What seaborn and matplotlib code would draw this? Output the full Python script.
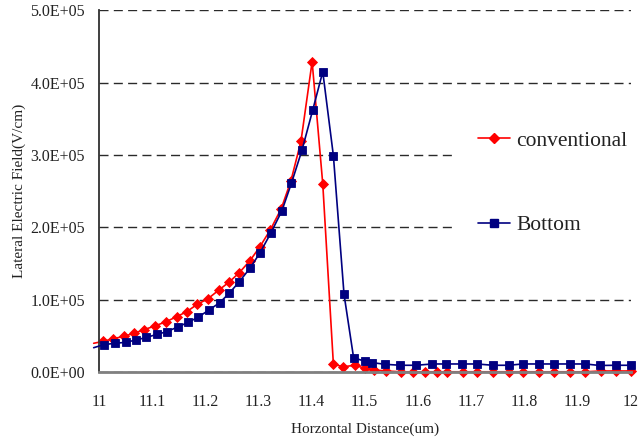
import matplotlib
matplotlib.use("Agg")
import matplotlib.pyplot as plt
from matplotlib.lines import Line2D
import numpy as np
import pandas as pd
import seaborn as sns

# Lateral electric field along the channel (V/cm) vs horizontal distance (um)
conv_x = [10.99, 11.007, 11.027, 11.047, 11.066, 11.085, 11.105, 11.126, 11.146, 11.165,
          11.185, 11.205, 11.225, 11.245, 11.264, 11.284, 11.302, 11.322, 11.343, 11.361,
          11.380, 11.401, 11.421, 11.441, 11.460, 11.481, 11.501, 11.518, 11.540, 11.569,
          11.590, 11.613, 11.635, 11.655, 11.684, 11.711, 11.741, 11.771, 11.798, 11.827,
          11.857, 11.886, 11.915, 11.944, 11.972, 12.0]
conv_e = [39700, 42200, 46000, 49400, 53500, 58600, 63600, 69500, 76400, 83400,
          93600, 101300, 113000, 124400, 137300, 153900, 172400, 196000, 226000, 264000,
          319000, 429000, 260000, 10600, 7300, 9300, 5100, 2800, 1400, 300,
          300, 300, 300, 300, 300, 300, 300, 300, 300, 300,
          300, 300, 300, 1400, 1400, 1400]

bot_x = [10.99, 11.010, 11.031, 11.051, 11.069, 11.089, 11.110, 11.127, 11.148, 11.168,
         11.186, 11.207, 11.227, 11.245, 11.264, 11.284, 11.303, 11.323, 11.344, 11.362,
         11.382, 11.402, 11.421, 11.441, 11.461, 11.479, 11.500, 11.514, 11.539, 11.567,
         11.597, 11.627, 11.653, 11.683, 11.711, 11.741, 11.771, 11.797, 11.827, 11.857,
         11.886, 11.915, 11.942, 11.972, 12.0]
bot_e = [33600, 38000, 39700, 41100, 44200, 47700, 52300, 55600, 62200, 68700,
         75600, 85700, 95800, 108800, 124900, 143400, 164900, 191700, 222600, 260800,
         306900, 361800, 415100, 299000, 107400, 19800, 14800, 12900, 10600, 9300,
         9300, 11100, 11100, 11100, 11100, 9300, 9300, 11100, 11100, 11100,
         11100, 11100, 9000, 9300, 9300]

series_names = ["conventional", "Bottom"]
x_ticks = [11, 11.1, 11.2, 11.3, 11.4, 11.5, 11.6, 11.7, 11.8, 11.9, 12]
y_ticks = [0, 100000, 200000, 300000, 400000, 500000]
y_tick_labels = ["0.0E+00", "1.0E+05", "2.0E+05", "3.0E+05", "4.0E+05", "5.0E+05"]

df = pd.concat([
    pd.DataFrame({"x": conv_x, "E": conv_e, "series": series_names[0]}),
    pd.DataFrame({"x": bot_x, "E": bot_e, "series": series_names[1]}),
], ignore_index=True)

sns.set_style("white")
plt.rcParams["font.family"] = ["Liberation Serif", "DejaVu Serif"]

colors = {"conventional": "#FF0000", "Bottom": "#000080"}
markers = {"conventional": "D", "Bottom": "s"}
msizes = {"conventional": 5.0, "Bottom": 6.0}

fig = plt.figure(figsize=(6.4, 4.38), dpi=100)
ax = fig.add_axes([99 / 640, 1 - 372 / 438, (630.5 - 99) / 640, (372 - 10.3) / 438])

sns.lineplot(data=df, x="x", y="E", hue="series", style="series",
             palette=colors, markers=markers, dashes=False, sort=False,
             errorbar=None, legend=False, ax=ax, linewidth=1.2,
             markeredgewidth=0.6, markevery=slice(1, None), clip_on=False)
for ln, name in zip(ax.lines, series_names):
    ln.set_markeredgecolor(colors[name])
    ln.set_markersize(msizes[name])
    ln.set_zorder(3 if name == "Bottom" else 2)

ax.set_xlim(11, 12)
ax.set_ylim(0, 500000)
ax.set_xticks(x_ticks)
ax.set_xticklabels([f"{t:g}" for t in x_ticks])
ax.set_yticks(y_ticks)
ax.set_yticklabels(y_tick_labels)

ax.yaxis.grid(True, color="#2a2a2a", linewidth=1.0, linestyle=(0, (6.5, 3.8)))
ax.xaxis.grid(False)
ax.set_axisbelow(True)

for s in ["top", "right"]:
    ax.spines[s].set_visible(False)
ax.spines["left"].set_color("#303030")
ax.spines["left"].set_linewidth(1.3)
ax.spines["bottom"].set_color("#808080")
ax.spines["bottom"].set_linewidth(2.0)

ax.tick_params(axis="x", direction="in", length=3, width=1, color="#303030",
               pad=16, labelsize=11.5, labelcolor="#222222")
ax.tick_params(axis="y", length=0, pad=10, labelsize=11.5, labelcolor="#222222")

ax.set_xlabel("Horzontal Distance(um)", fontsize=11, color="#222222", labelpad=9)
ax.set_ylabel("Lateral Electric Field(V/cm)", fontsize=11, color="#222222", labelpad=3)

handles = [Line2D([], [], color=colors[n], marker=markers[n], markersize=msizes[n],
                  markeredgecolor=colors[n], linewidth=1.2) for n in series_names]
leg = ax.legend(handles, series_names, loc="upper left",
                bbox_to_anchor=(456 / 640, 1 - 109 / 438),
                bbox_transform=fig.transFigure, fontsize=15.5,
                frameon=True, facecolor="white", edgecolor="none", framealpha=1,
                fancybox=False, borderpad=1.0, labelspacing=3.0,
                handlelength=1.5, handletextpad=0.3, borderaxespad=0)
for t in leg.get_texts():
    t.set_color("#222222")

fig.savefig("out.png", dpi=100)
